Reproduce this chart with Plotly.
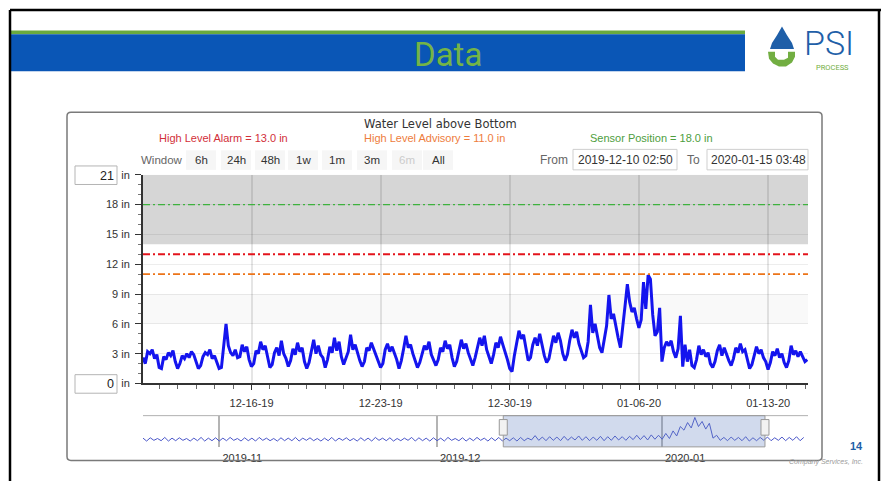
import plotly.graph_objects as go
import pandas as pd

# ---------------- data ----------------
series_start = "2019-12-10 02:50"   # 3-hourly readings
water_level_by_day = [
    [2.6, 2.0, 3.2, 3.0, 3.4, 2.5, 2.9, 1.6],   # Dec 10
    [1.5, 2.7, 2.4, 3.1, 2.8, 3.3, 2.2, 1.5],
    [2.0, 2.8, 2.5, 3.0, 2.6, 3.2, 2.9, 2.3],
    [1.5, 1.8, 2.7, 3.1, 2.9, 3.4, 2.5, 2.8],
    [2.2, 1.5, 1.6, 3.5, 6.0, 3.8, 3.1, 2.8],   # Dec 14
    [3.4, 2.6, 2.7, 3.9, 3.2, 3.7, 2.4, 1.7],
    [2.0, 3.3, 3.0, 4.2, 3.4, 3.8, 2.6, 1.6],
    [1.9, 3.1, 3.6, 2.8, 4.3, 3.0, 2.5, 1.7],
    [2.3, 3.5, 2.9, 4.1, 3.2, 3.6, 2.2, 1.5],
    [2.1, 3.4, 4.4, 3.0, 3.8, 2.9, 2.6, 1.6],
    [2.4, 3.7, 3.1, 4.6, 3.3, 4.2, 2.7, 1.9],   # Dec 20
    [2.5, 3.2, 4.9, 3.4, 3.9, 3.0, 2.3, 1.7],
    [2.2, 3.6, 3.3, 4.1, 3.5, 2.8, 2.1, 1.6],
    [2.0, 3.4, 4.0, 3.2, 3.7, 3.1, 2.4, 1.5],
    [2.3, 3.5, 4.8, 3.6, 3.9, 3.0, 2.2, 1.6],
    [2.1, 3.0, 3.8, 3.4, 4.2, 2.9, 2.3, 1.8],   # Dec 25
    [2.4, 3.6, 3.2, 4.3, 3.5, 3.9, 2.6, 1.7],
    [2.2, 3.3, 4.4, 3.5, 4.0, 3.1, 2.5, 1.8],
    [2.6, 3.7, 4.6, 3.8, 4.8, 3.4, 2.7, 2.0],
    [2.9, 4.1, 3.6, 4.7, 3.9, 3.2, 2.4, 1.5],
    [1.2, 2.8, 4.2, 5.3, 4.5, 4.9, 3.6, 2.3],   # Dec 30
    [2.6, 3.9, 4.6, 3.8, 5.0, 3.9, 2.8, 2.1],
    [2.5, 3.7, 4.8, 4.1, 5.1, 4.3, 3.0, 2.3],   # Jan 1
    [2.9, 4.3, 5.4, 4.6, 5.2, 4.0, 3.2, 2.6],
    [2.8, 4.2, 7.9, 5.1, 6.0, 4.9, 3.6, 3.1],
    [4.5, 5.8, 8.9, 6.5, 7.0, 5.6, 4.6, 3.6],
    [5.5, 7.8, 10.0, 8.2, 7.2, 7.6, 6.5, 5.6],  # Jan 5
    [6.4, 10.2, 7.5, 10.9, 10.5, 6.9, 4.8, 5.2],
    [7.6, 2.2, 3.6, 4.2, 3.8, 4.3, 3.2, 2.6],
    [3.5, 6.8, 1.7, 3.9, 2.2, 3.4, 1.8, 1.6],
    [2.4, 3.8, 2.9, 3.4, 2.7, 3.1, 2.0, 1.6],
    [2.2, 3.3, 3.9, 2.8, 3.6, 2.9, 2.3, 1.8],   # Jan 10
    [2.5, 3.6, 3.1, 4.0, 3.2, 3.4, 2.4, 1.5],
    [1.9, 2.9, 3.7, 3.0, 3.4, 2.6, 2.2, 1.4],
    [2.1, 3.2, 2.8, 3.5, 2.6, 3.0, 2.1, 1.6],
    [2.3, 3.8, 2.9, 3.3, 2.7, 3.2, 2.6, 2.2],   # Jan 14
]
water_level_last = [2.4]

nav_start = "2019-10-21"   # navigator: night low / midday high per day
nav_low = [
    2.3, 2.2, 2.4, 2.3, 2.2, 2.3, 2.4, 2.2, 2.3, 2.2, 2.3,
    2.2, 2.3, 2.4, 2.2, 2.3, 2.2, 2.4, 2.3, 2.2, 2.3,
    2.3, 2.2, 2.4, 2.3, 2.2, 2.3, 2.2, 2.4, 2.3, 2.2,
    2.3, 2.2, 2.4, 2.3, 2.2, 2.3, 2.4, 2.2, 2.3, 2.2,
    2.3, 2.2, 2.4, 2.3, 2.2, 2.3, 2.4, 2.2, 2.3, 2.2,
    2.3, 2.2, 2.3, 2.5, 2.4, 2.3, 2.4, 2.3, 2.4, 2.5,
    2.4, 2.3, 2.4, 2.3, 2.4, 2.5, 2.4, 2.6, 2.6, 2.5, 2.7,
    2.7, 2.9, 3.6, 5.2, 5.8, 6.2, 5.5, 3.0, 2.4, 2.3,
    2.4, 2.3, 2.2, 2.3, 2.4, 2.3, 2.4, 2.3, 2.4, 2.3,
]
nav_high = [
    3.0, 3.1, 2.9, 3.2, 3.0, 3.1, 2.9, 3.0, 3.2, 3.0, 3.1,
    3.0, 3.2, 2.9, 3.1, 3.0, 3.2, 3.0, 2.9, 3.1, 3.0,
    3.2, 3.0, 3.1, 2.9, 3.0, 3.2, 3.0, 3.1, 2.9, 3.1,
    3.0, 3.2, 3.0, 3.1, 2.9, 3.0, 3.2, 3.1, 3.0, 3.1,
    3.0, 3.2, 2.9, 3.1, 3.0, 3.2, 3.0, 3.1, 3.2, 3.0,
    3.1, 3.2, 3.0, 3.7, 3.3, 3.4, 3.3, 3.5, 3.3, 3.6,
    3.4, 3.3, 3.5, 3.4, 3.6, 3.4, 3.5, 3.8, 3.7, 3.9, 3.8,
    4.3, 5.0, 6.2, 7.3, 8.7, 7.6, 7.1, 3.8, 3.2, 3.3,
    3.2, 3.4, 3.1, 3.2, 3.3, 3.1, 3.3, 3.2, 3.4, 3.2,
]

view_from = "2019-12-10 02:50"
view_to = "2020-01-15 03:48"
nav_range = ["2019-10-21 12:00", "2020-01-21 02:00"]
week_ticks = ["2019-12-16", "2019-12-23", "2019-12-30", "2020-01-06", "2020-01-13"]
month_ticks = ["2019-11-01", "2019-12-01", "2020-01-01"]
month_labels = ["2019-11", "2019-12", "2020-01"]
y_ticks = [0, 3, 6, 9, 12, 15, 18, 21]
y_min, y_max = 0, 21
alarm_level = 13.0
advisory_level = 11.0
sensor_position = 18.0
window_buttons = ["6h", "24h", "48h", "1w", "1m", "3m", "6m", "All"]

# ---------------- build ----------------
level = [v for day in water_level_by_day for v in day] + water_level_last
times = pd.date_range(series_start, periods=len(level), freq="3h")
nav_vals = [v for pair in zip(nav_low, nav_high) for v in pair]
nav_times = pd.date_range(nav_start, periods=len(nav_vals), freq="12h")
# the end values sit in input boxes; their "in" unit stays as tick text
y_labels = ["in" if v in (y_min, y_max) else f"{v} in" for v in y_ticks]

W, H = 881, 487
def X(p): return p / W
def Y(p): return 1 - p / H

FONT = "Liberation Sans, Arial, sans-serif"

fig = go.Figure()
fig.add_trace(go.Scatter(x=times, y=level, mode="lines",
                         line=dict(color="#1414ee", width=3),
                         xaxis="x", yaxis="y", hoverinfo="skip"))
fig.add_trace(go.Scatter(x=nav_times, y=nav_vals, mode="lines",
                         line=dict(color="#4a56c8", width=1),
                         xaxis="x2", yaxis="y2", hoverinfo="skip"))

shapes = []
def prect(x0, y0, x1, y1, fill="rgba(0,0,0,0)", line="rgba(0,0,0,0)", lw=0, layer="above"):
    shapes.append(dict(type="rect", xref="paper", yref="paper",
                       x0=X(x0), x1=X(x1), y0=Y(y1), y1=Y(y0),
                       fillcolor=fill, line=dict(color=line, width=lw), layer=layer))
def pline(x0, y0, x1, y1, color, lw):
    shapes.append(dict(type="line", xref="paper", yref="paper",
                       x0=X(x0), x1=X(x1), y0=Y(y0), y1=Y(y1),
                       line=dict(color=color, width=lw)))

# slide frame and header
pline(10, 4, 881, 4, "#000000", 2.5)
pline(10, 4, 10, 487, "#000000", 2.5)
pline(879, 4, 879, 487, "#000000", 2.5)
prect(11, 25, 745, 29, fill="#6aaa3e", layer="below")
prect(11, 29, 745, 67, fill="#0a56b6", layer="below")

# logo (drop)
def ppath(pts):
    return " ".join(("M" if i == 0 else "L") + f" {X(x):.5f},{Y(y):.5f}" for i, (x, y) in enumerate(pts)) + " Z"
shapes.append(dict(type="path", xref="paper", yref="paper", layer="above",
                   path=ppath([(782, 21), (787, 30), (792, 38), (794, 44), (770, 44), (772, 38), (777, 30)]),
                   fillcolor="#1f5fa8", line=dict(width=0)))
shapes.append(dict(type="path", xref="paper", yref="paper", layer="above",
                   path=ppath([(768, 47), (769, 54), (773, 59), (779, 62), (786, 62), (792, 58), (795, 52),
                               (795, 47), (788, 47), (788, 53), (784, 55), (778, 55), (775, 52), (775, 47)]),
                   fillcolor="#72ae42", line=dict(width=0)))

# chart frame (rounded)
r = 4
x0, y0, x1, y1 = 67, 109, 822, 466
frame = (f"M {X(x0+r)},{Y(y0)} L {X(x1-r)},{Y(y0)} Q {X(x1)},{Y(y0)} {X(x1)},{Y(y0+r)} "
         f"L {X(x1)},{Y(y1-r)} Q {X(x1)},{Y(y1)} {X(x1-r)},{Y(y1)} L {X(x0+r)},{Y(y1)} "
         f"Q {X(x0)},{Y(y1)} {X(x0)},{Y(y1-r)} L {X(x0)},{Y(y0+r)} Q {X(x0)},{Y(y0)} {X(x0+r)},{Y(y0)} Z")
shapes.append(dict(type="path", xref="paper", yref="paper", path=frame,
                   fillcolor="rgba(0,0,0,0)", line=dict(color="#7a7a7a", width=1.5), layer="above"))

# plot bands and thresholds
shapes.append(dict(type="rect", xref="x domain", yref="y", x0=0, x1=1, y0=14, y1=21,
                   fillcolor="#d6d6d6", line=dict(width=0), layer="below"))
shapes.append(dict(type="rect", xref="x domain", yref="y", x0=0, x1=1, y0=6, y1=9,
                   fillcolor="#f9f9f9", line=dict(width=0), layer="below"))
for lvl, col, w in [(sensor_position, "#3fb23f", 1.2), (alarm_level, "#e3141c", 2.0),
                    (advisory_level, "#ec7418", 1.6)]:
    shapes.append(dict(type="line", xref="x domain", yref="y", x0=0, x1=1, y0=lvl, y1=lvl,
                       line=dict(color=col, width=w, dash="7px,3px,2px,3px"), layer="above"))

# y-range input boxes
prect(75, 164, 117, 183, line="#b5b5b5", lw=1)
prect(75, 378, 117, 397, line="#b5b5b5", lw=1)

# range selector buttons and date inputs
btn_x = [201, 236, 270, 303, 337, 372, 407, 438]
for bx in btn_x:
    prect(bx - 15, 148, bx + 15, 168, fill="#f6f6f6", layer="below")
prect(573, 147, 677, 168, line="#cfcfcf", lw=1)
prect(707, 147, 808, 168, line="#cfcfcf", lw=1)

# navigator
pline(143, 420, 808, 420, "#b0b0b0", 1)
shapes.append(dict(type="rect", xref="x2", yref="paper", x0=view_from, x1=view_to,
                   y0=Y(452), y1=Y(420), fillcolor="rgba(102,133,194,0.3)",
                   line=dict(color="#9a9a9a", width=1), layer="above"))
for hx in [view_from, view_to]:
    shapes.append(dict(type="rect", xref="x2", yref="paper", xsizemode="pixel", xanchor=hx,
                       x0=-4, x1=4, y0=Y(440), y1=Y(424), fillcolor="#f2f2f2",
                       line=dict(color="#999999", width=1), layer="above"))

ann = []
def text(x, y, s, size=11, color="#333333", family=FONT, anchor="center", **kw):
    ann.append(dict(x=X(x), y=Y(y), xref="paper", yref="paper", text=s, showarrow=False,
                    xanchor=anchor, yanchor="middle", font=dict(size=size, color=color, family=family, **kw)))

text(448, 50, "Data", size=33, color="#74b446", family="Roboto, sans-serif")
text(829, 38, "PSI", size=34, color="#1f5fa8", family="Roboto, sans-serif", weight=300)
text(832, 63, "PROCESS", size=7.5, color="#72ae42", family="Roboto, sans-serif")
text(440, 121, "Water Level above Bottom", size=11.5, color="#333333", family="DejaVu Sans, sans-serif")
text(223, 135, f"High Level Alarm = {alarm_level:.1f} in", color="#d2303a")
text(434, 135, f"High Level Advisory = {advisory_level:.1f} in", color="#ee7c3c")
text(651, 135, f"Sensor Position = {sensor_position:.1f} in", color="#4e9e40")
text(162, 158, "Window", size=11.5, color="#666666")
for bx, lab in zip(btn_x, window_buttons):
    text(bx, 158, lab, size=11.5, color="#cccccc" if lab == "6m" else "#333333")
text(554, 158, "From", size=12, color="#666666")
text(625, 158, view_from, size=12, color="#333333")
text(693, 158, "To", size=12, color="#666666")
text(758, 158, view_to, size=12, color="#333333")
text(116, 174, str(y_max), size=12.5, color="#222222", anchor="right")
text(116, 388, str(y_min), size=12.5, color="#222222", anchor="right")
text(856, 451, "<b>14</b>", size=11, color="#1f5fa8")
text(826, 468, "<i>Company Services, Inc.</i>", size=7, color="#9a9a9a")

fig.update_layout(
    width=W, height=H, autosize=False,
    margin=dict(l=0, r=0, t=0, b=0),
    paper_bgcolor="white", plot_bgcolor="white",
    showlegend=False, shapes=shapes, annotations=ann,
    font=dict(family=FONT, size=11, color="#333333"),
    xaxis=dict(domain=[X(143), X(808)], anchor="y", type="date",
               range=[view_from, view_to], tickvals=week_ticks, tickformat="%m-%d-%y",
               showgrid=True, gridcolor="rgba(0,0,0,0.1)", gridwidth=2,
               showline=True, linecolor="#333333", linewidth=2,
               ticks="outside", ticklen=5, tickcolor="#333333",
               minor=dict(dtick=86400000, tick0="2019-12-16", ticks="outside", ticklen=4,
                          tickcolor="#666666", showgrid=False),
               ticklabelstandoff=3,
               tickfont=dict(size=11, color="#333333"), zeroline=False, fixedrange=True),
    yaxis=dict(domain=[Y(387), Y(173)], anchor="x", range=[y_min, y_max],
               tickvals=y_ticks, ticktext=y_labels,
               showgrid=True, gridcolor="rgba(0,0,0,0.07)", gridwidth=1,
               showline=True, linecolor="#333333", linewidth=2,
               ticks="outside", ticklen=6, tickcolor="#333333",
               minor=dict(dtick=1, ticks="outside", ticklen=3, tickcolor="#777777", showgrid=False),
               ticklabelstandoff=3,
               tickfont=dict(size=11, color="#333333"), zeroline=False, fixedrange=True),
    xaxis2=dict(domain=[X(143), X(808)], anchor="y2", type="date", range=nav_range,
                tickvals=month_ticks, ticktext=month_labels, ticks="",
                showgrid=True, gridcolor="#b4b4b4", gridwidth=1.5, showline=False,
                ticklabelshift=23, ticklabelstandoff=3,
                tickfont=dict(size=11, color="#333333"), zeroline=False, fixedrange=True),
    yaxis2=dict(domain=[Y(452), Y(420)], anchor="x2", range=[0.6, 9.2], visible=False,
                fixedrange=True),
)

fig.write_html("out.html", config=dict(displayModeBar=False, staticPlot=True),
               post_script="document.body.style.margin='0';")
